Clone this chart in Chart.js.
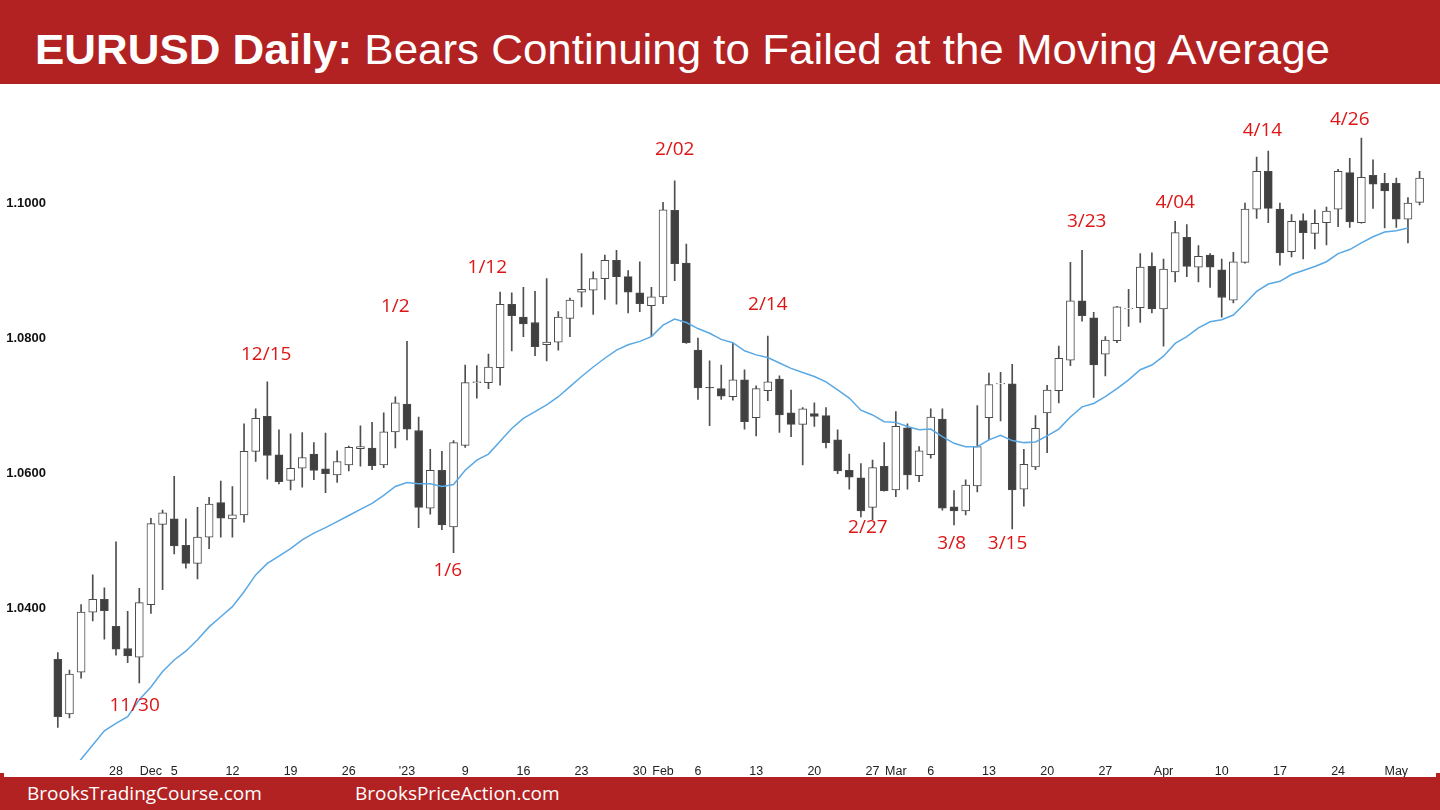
<!DOCTYPE html>
<html>
<head>
<meta charset="utf-8">
<script src="https://cdn.jsdelivr.net/npm/chart.js@4.4.0/dist/chart.umd.min.js"></script>
<style>
  html, body { margin: 0; padding: 0; background: #fff; width: 1440px; height: 810px; overflow: hidden; position: relative; font-family: "Liberation Sans", Arial, sans-serif; }
  #head { position: absolute; left: 0; top: 0; width: 1440px; height: 84px; background: #b22222; }
  #ttl { position: absolute; left: 35px; top: 29px; font-size: 42px; line-height: 42px; color: #fff; white-space: nowrap; transform-origin: 0 0; }
  #ttl b { font-weight: bold; }
  #wrap { position: absolute; left: 0; top: 80px; width: 1440px; height: 697px; }
  #foot { position: absolute; left: 0; top: 777px; width: 1440px; height: 33px; background: #b22222; }
  .notch { position: absolute; top: 773px; width: 4px; height: 4px; background: #b22222; }
  .site { position: absolute; top: 784px; font-family: "Open Sans", "Noto Sans", sans-serif; font-size: 19px; line-height: 19px; color: #fff; white-space: nowrap; }
</style>
</head>
<body>
<div id="head"><div id="ttl"><b>EURUSD Daily:</b> Bears Continuing to Failed at the Moving Average</div></div>
<div id="wrap"><canvas id="chart"></canvas></div>
<div id="foot"></div>
<div class="notch" style="left:0"></div>
<div class="notch" style="right:0"></div>
<div class="site" style="left:27px">BrooksTradingCourse.com</div>
<div class="site" style="left:355px">BrooksPriceAction.com</div>
<script>
// EURUSD daily candles, 21 Nov 2022 .. 3 May 2023 (every weekday)
const opens = [
  1.0324, 1.0243, 1.0305, 1.0394, 1.0413, 1.0373, 1.0340, 1.0327, 1.0405, 1.0524,
  1.0532, 1.0493, 1.0466, 1.0505, 1.0556, 1.0532, 1.0538, 1.0632, 1.0684, 1.0627,
  1.0589, 1.0607, 1.0628, 1.0606, 1.0597, 1.0612, 1.0636, 1.0637, 1.0612, 1.0661,
  1.0702, 1.0663, 1.0548, 1.0604, 1.0520, 1.0641, 1.0734, 1.0734, 1.0756, 1.0850,
  1.0831, 1.0823, 1.0790, 1.0794, 1.0829, 1.0868, 1.0871, 1.0888, 1.0915, 1.0891,
  1.0867, 1.0848, 1.0861, 1.0989, 1.0911, 1.0782, 1.0727, 1.0725, 1.0713, 1.0738,
  1.0682, 1.0722, 1.0739, 1.0689, 1.0672, 1.0688, 1.0685, 1.0649, 1.0604, 1.0593,
  1.0549, 1.0610, 1.0575, 1.0667, 1.0596, 1.0627, 1.0680, 1.0550, 1.0544, 1.0581,
  1.0682, 1.0732, 1.0732, 1.0576, 1.0609, 1.0689, 1.0722, 1.0767, 1.0855, 1.0830,
  1.0776, 1.0796, 1.0843, 1.0845, 1.0906, 1.0843, 1.0898, 1.0949, 1.0905, 1.0923,
  1.0901, 1.0856, 1.0912, 1.0991, 1.1047, 1.0991, 1.0928, 1.0974, 1.0955, 1.0971,
  1.0991, 1.1045, 1.0971, 1.1041, 1.1029, 1.1029, 1.0976, 1.1001
];
const highs = [
  1.0334, 1.0308, 1.0405, 1.0449, 1.0430, 1.0498, 1.0395, 1.0429, 1.0533, 1.0545,
  1.0595, 1.0532, 1.0549, 1.0564, 1.0588, 1.0580, 1.0673, 1.0695, 1.0735, 1.0664,
  1.0658, 1.0660, 1.0645, 1.0659, 1.0633, 1.0640, 1.0670, 1.0675, 1.0689, 1.0713,
  1.0795, 1.0683, 1.0635, 1.0632, 1.0648, 1.0760, 1.0759, 1.0776, 1.0868, 1.0867,
  1.0875, 1.0869, 1.0888, 1.0839, 1.0859, 1.0925, 1.0898, 1.0923, 1.0930, 1.0900,
  1.0913, 1.0875, 1.1001, 1.1033, 1.0939, 1.0800, 1.0766, 1.0760, 1.0792, 1.0753,
  1.0729, 1.0803, 1.0744, 1.0723, 1.0697, 1.0704, 1.0697, 1.0664, 1.0628, 1.0614,
  1.0619, 1.0645, 1.0691, 1.0673, 1.0639, 1.0695, 1.0695, 1.0574, 1.0590, 1.0700,
  1.0748, 1.0749, 1.0761, 1.0635, 1.0685, 1.0730, 1.0788, 1.0912, 1.0930, 1.0838,
  1.0802, 1.0847, 1.0872, 1.0925, 1.0926, 1.0917, 1.0973, 1.0968, 1.0937, 1.0925,
  1.0917, 1.0927, 1.1000, 1.1068, 1.1077, 1.1000, 1.0983, 1.0984, 1.0990, 1.0994,
  1.1050, 1.1066, 1.1096, 1.1064, 1.1044, 1.1037, 1.1008, 1.1047
];
const lows = [
  1.0223, 1.0237, 1.0296, 1.0381, 1.0354, 1.0330, 1.0319, 1.0289, 1.0392, 1.0427,
  1.0480, 1.0459, 1.0443, 1.0488, 1.0505, 1.0505, 1.0527, 1.0617, 1.0591, 1.0584,
  1.0575, 1.0579, 1.0590, 1.0571, 1.0586, 1.0603, 1.0610, 1.0605, 1.0608, 1.0637,
  1.0649, 1.0519, 1.0539, 1.0516, 1.0482, 1.0638, 1.0711, 1.0725, 1.0730, 1.0781,
  1.0802, 1.0774, 1.0766, 1.0782, 1.0802, 1.0846, 1.0835, 1.0857, 1.0850, 1.0837,
  1.0839, 1.0802, 1.0851, 1.0885, 1.0792, 1.0709, 1.0670, 1.0709, 1.0708, 1.0665,
  1.0655, 1.0707, 1.0660, 1.0654, 1.0612, 1.0669, 1.0637, 1.0599, 1.0576, 1.0535,
  1.0531, 1.0573, 1.0565, 1.0576, 1.0587, 1.0622, 1.0545, 1.0523, 1.0538, 1.0572,
  1.0649, 1.0677, 1.0517, 1.0551, 1.0605, 1.0630, 1.0704, 1.0759, 1.0825, 1.0712,
  1.0744, 1.0793, 1.0817, 1.0823, 1.0837, 1.0788, 1.0883, 1.0891, 1.0883, 1.0875,
  1.0831, 1.0852, 1.0911, 1.0977, 1.0971, 1.0908, 1.0920, 1.0917, 1.0932, 1.0938,
  1.0965, 1.0964, 1.0970, 1.0992, 1.0963, 1.0964, 1.0941, 1.0997
];
const closes = [
  1.0239, 1.0302, 1.0394, 1.0413, 1.0396, 1.0339, 1.0329, 1.0408, 1.0525, 1.0541,
  1.0492, 1.0466, 1.0505, 1.0554, 1.0533, 1.0538, 1.0632, 1.0681, 1.0626, 1.0587,
  1.0607, 1.0623, 1.0604, 1.0599, 1.0617, 1.0638, 1.0639, 1.0611, 1.0661, 1.0704,
  1.0665, 1.0549, 1.0604, 1.0523, 1.0645, 1.0734, 1.0735, 1.0757, 1.0850, 1.0833,
  1.0821, 1.0787, 1.0794, 1.0831, 1.0856, 1.0872, 1.0888, 1.0915, 1.0891, 1.0868,
  1.0851, 1.0861, 1.0990, 1.0910, 1.0793, 1.0726, 1.0726, 1.0714, 1.0738, 1.0676,
  1.0725, 1.0735, 1.0686, 1.0672, 1.0695, 1.0684, 1.0645, 1.0603, 1.0594, 1.0544,
  1.0608, 1.0574, 1.0669, 1.0597, 1.0633, 1.0683, 1.0548, 1.0544, 1.0582, 1.0639,
  1.0731, 1.0733, 1.0575, 1.0613, 1.0666, 1.0723, 1.0770, 1.0855, 1.0833, 1.0760,
  1.0797, 1.0846, 1.0844, 1.0905, 1.0843, 1.0902, 1.0956, 1.0906, 1.0921, 1.0905,
  1.0860, 1.0913, 1.0991, 1.1047, 1.0992, 1.0926, 1.0973, 1.0956, 1.0970, 1.0988,
  1.1047, 1.0972, 1.1038, 1.1028, 1.1018, 1.0976, 1.1000, 1.1037
];
// 20 bar moving average
const movingAvg = [
  1.0130, 1.0153, 1.0176, 1.0197, 1.0218, 1.0229, 1.0239, 1.0264, 1.0283, 1.0306,
  1.0323, 1.0336, 1.0353, 1.0372, 1.0387, 1.0402, 1.0424, 1.0449, 1.0466, 1.0477,
  1.0488, 1.0501, 1.0511, 1.0519, 1.0528, 1.0537, 1.0546, 1.0555, 1.0567, 1.0580,
  1.0586, 1.0584, 1.0584, 1.0580, 1.0583, 1.0604, 1.0619, 1.0628, 1.0647, 1.0666,
  1.0681, 1.0691, 1.0701, 1.0713, 1.0728, 1.0743, 1.0757, 1.0770, 1.0782, 1.0790,
  1.0795, 1.0802, 1.0819, 1.0828, 1.0823, 1.0814, 1.0807, 1.0798, 1.0793, 1.0781,
  1.0775, 1.0771, 1.0763, 1.0755, 1.0749, 1.0743, 1.0735, 1.0723, 1.0711, 1.0693,
  1.0686, 1.0676, 1.0675, 1.0669, 1.0664, 1.0665, 1.0654, 1.0644, 1.0639, 1.0639,
  1.0649, 1.0656, 1.0648, 1.0645, 1.0646, 1.0655, 1.0665, 1.0683, 1.0698, 1.0703,
  1.0713, 1.0725, 1.0738, 1.0753, 1.0760, 1.0773, 1.0792, 1.0802, 1.0815, 1.0824,
  1.0827, 1.0834, 1.0851, 1.0869, 1.0880, 1.0884, 1.0894, 1.0900, 1.0906, 1.0913,
  1.0925, 1.0931, 1.0941, 1.0950, 1.0957, 1.0959, 1.0963, null
];

const yTicks = [1.04, 1.06, 1.08, 1.10];
const xTickText = {
  '11/28': '28', '12/1': 'Dec', '12/5': '5', '12/12': '12', '12/19': '19', '12/26': '26',
  '1/2': "'23", '1/9': '9', '1/16': '16', '1/23': '23', '1/30': '30', '2/1': 'Feb',
  '2/6': '6', '2/13': '13', '2/20': '20', '2/27': '27', '3/1': 'Mar', '3/6': '6',
  '3/13': '13', '3/20': '20', '3/27': '27', '4/3': 'Apr', '4/10': '10', '4/17': '17',
  '4/24': '24', '5/1': 'May'
};

// red swing labels: text, bar position, price level
const noteText  = ['11/30', '12/15', '1/2', '1/6', '1/12', '2/02', '2/14', '2/27', '3/8', '3/15', '3/23', '4/04', '4/14', '4/26'];
const noteIndex = [6.6, 17.9, 29, 33.5, 36.9, 53, 61, 69.6, 76.8, 81.6, 88.4, 96, 103.5, 111];
const notePrice = [1.0256, 1.0775, 1.0846, 1.0456, 1.0904, 1.1079, 1.0849, 1.0519, 1.0496, 1.0496, 1.0972, 1.1000, 1.1108, 1.1123];

// weekday dates for the category axis
const days = [];
for (let d = new Date(2022, 10, 21); days.length < opens.length; d.setDate(d.getDate() + 1)) {
  if (d.getDay() !== 0 && d.getDay() !== 6) days.push((d.getMonth() + 1) + '/' + d.getDate());
}

const notesPlugin = {
  id: 'notes',
  afterDatasetsDraw(chart) {
    const { ctx, scales: { x, y } } = chart;
    ctx.save();
    ctx.font = '19px "Open Sans", "Noto Sans", sans-serif';
    ctx.fillStyle = '#dd1515';
    ctx.textAlign = 'center';
    ctx.textBaseline = 'middle';
    noteText.forEach((t, i) => ctx.fillText(t, x.getPixelForValue(noteIndex[i]), y.getPixelForValue(notePrice[i])));
    ctx.restore();
  }
};

// keep the axes from adding their own label padding to the plot area
const noPad = s => { s.paddingTop = 0; s.paddingBottom = 0; s.paddingLeft = 0; s.paddingRight = 0; };

new Chart(document.getElementById('chart'), {
  type: 'bar',
  data: {
    labels: days,
    datasets: [
      {
        type: 'line', data: movingAvg, borderColor: '#5aa8e4', borderWidth: 1.5,
        pointRadius: 0, tension: 0, order: 0
      },
      {
        data: opens.map((o, i) => [o, closes[i]]),
        backgroundColor: ctx => closes[ctx.dataIndex] >= opens[ctx.dataIndex] ? '#ffffff' : '#404040',
        borderColor: '#4a4a4a', borderWidth: 1, borderSkipped: false,
        barThickness: 8, grouped: false, order: 1
      },
      {
        data: lows.map((l, i) => [l, highs[i]]),
        backgroundColor: '#4f4f4f', barThickness: 1, grouped: false, order: 2
      }
    ]
  },
  options: {
    responsive: true, maintainAspectRatio: false, animation: false,
    layout: { padding: { left: 0, right: 14.6, top: 5, bottom: 0 } },
    plugins: { legend: { display: false }, tooltip: { enabled: false } },
    scales: {
      x: {
        offset: true,
        grid: { display: false, drawTicks: false, tickLength: 0 }, border: { display: false },
        afterFit: s => { s.height = 17; noPad(s); },
        ticks: {
          autoSkip: false, maxRotation: 0, padding: 4, color: '#222',
          font: { family: '"Liberation Sans", Arial, sans-serif', size: 12.5 },
          callback: function (v) { return xTickText[this.getLabelForValue(v)] || ''; }
        }
      },
      y: {
        min: 1.017481, max: 1.117481,
        grid: { display: false, drawTicks: false, tickLength: 0 }, border: { display: false },
        afterBuildTicks: s => { s.ticks = yTicks.map(v => ({ value: v })); },
        afterFit: s => { s.width = 52; noPad(s); },
        ticks: {
          padding: 6, color: '#111',
          font: { family: '"Liberation Sans", Arial, sans-serif', size: 13, weight: 'bold' },
          callback: v => v.toFixed(4)
        }
      }
    }
  },
  plugins: [notesPlugin]
});

const ttl = document.getElementById('ttl');
ttl.style.transform = 'scaleX(' + (1295 / ttl.getBoundingClientRect().width) + ')';
</script>
</body>
</html>
